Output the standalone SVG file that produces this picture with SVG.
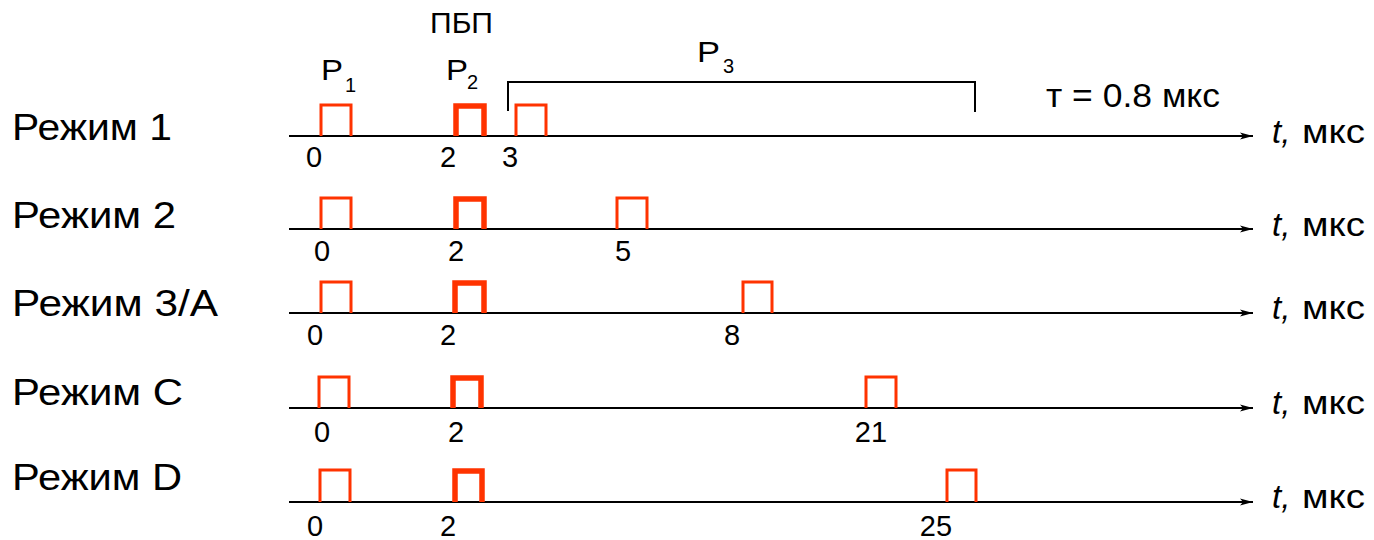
<svg xmlns="http://www.w3.org/2000/svg" width="1374" height="540" viewBox="0 0 1374 540">
<defs>
<marker id="arr" markerWidth="14" markerHeight="8" refX="13" refY="4" orient="auto" markerUnits="userSpaceOnUse">
<path d="M0,0.5 L13,4 L0,7.5 L3,4 Z" fill="#000"/>
</marker>
<style>
text{font-family:"Liberation Sans",Arial,sans-serif;fill:#000}
.mode{font-size:37px}
.num{font-size:29px;text-anchor:middle}
.unit{font-size:33px}
.ti{font-size:33px;font-style:italic}
.lbl{font-size:29px}
.sub{font-size:20px}
.axis{stroke:#000;stroke-width:2.2;fill:none}
.p{stroke:#ff3300;stroke-width:3;fill:none;stroke-linejoin:miter}
.pt{stroke:#ff3300;stroke-width:5.5;fill:none;stroke-linejoin:miter}
.br{stroke:#000;stroke-width:2;fill:none}
</style>
</defs>
<rect width="1374" height="540" fill="#fff"/>

<g id="annotations">
<text class="lbl" x="430" y="33" textLength="63" lengthAdjust="spacingAndGlyphs">ПБП</text>
<text class="lbl" x="321" y="80" textLength="22" lengthAdjust="spacingAndGlyphs">P</text>
<text class="sub" x="345" y="92">1</text>
<text class="lbl" x="446" y="80" textLength="22" lengthAdjust="spacingAndGlyphs">P</text>
<text class="sub" x="467" y="89">2</text>
<text class="lbl" x="697" y="62" textLength="23" lengthAdjust="spacingAndGlyphs">P</text>
<text class="sub" x="723" y="73">3</text>
<path class="br" d="M508,111 V82 H975 V112"/>
<text class="unit" x="1046" y="107" textLength="174" lengthAdjust="spacingAndGlyphs">т = 0.8 мкс</text>
</g>

<g id="connectors">
<line class="axis" x1="289" y1="136" x2="1253" y2="136" marker-end="url(#arr)"/>
<line class="axis" x1="289" y1="229" x2="1253" y2="229" marker-end="url(#arr)"/>
<line class="axis" x1="289" y1="313" x2="1253" y2="313" marker-end="url(#arr)"/>
<line class="axis" x1="289" y1="408" x2="1253" y2="408" marker-end="url(#arr)"/>
<line class="axis" x1="289" y1="502" x2="1253" y2="502" marker-end="url(#arr)"/>
</g>

<g id="mode1">
<text class="mode" x="12" y="140" textLength="160" lengthAdjust="spacingAndGlyphs">Режим 1</text>
<path class="p" d="M321,136 V105 H351 V136"/>
<path class="pt" d="M456,136 V106 H484 V136"/>
<path class="p" d="M516,136 V105 H546 V136"/>
<text class="num" x="314" y="167">0</text>
<text class="num" x="448" y="167">2</text>
<text class="num" x="510" y="167">3</text>
<text class="ti" x="1272" y="143">t,</text>
<text class="unit" x="1302" y="143" textLength="63" lengthAdjust="spacingAndGlyphs">мкс</text>
</g>

<g id="mode2">
<text class="mode" x="12" y="228" textLength="164" lengthAdjust="spacingAndGlyphs">Режим 2</text>
<path class="p" d="M321,229 V198 H351 V229"/>
<path class="pt" d="M456,229 V199 H484 V229"/>
<path class="p" d="M617,229 V198 H647 V229"/>
<text class="num" x="322" y="261">0</text>
<text class="num" x="456" y="261">2</text>
<text class="num" x="623" y="261">5</text>
<text class="ti" x="1272" y="236">t,</text>
<text class="unit" x="1302" y="236" textLength="63" lengthAdjust="spacingAndGlyphs">мкс</text>
</g>

<g id="mode3">
<text class="mode" x="12" y="316" textLength="206" lengthAdjust="spacingAndGlyphs">Режим 3/A</text>
<path class="p" d="M321,313 V282 H351 V313"/>
<path class="pt" d="M455,313 V283 H484 V313"/>
<path class="p" d="M743,313 V282 H772 V313"/>
<text class="num" x="315" y="345">0</text>
<text class="num" x="448" y="345">2</text>
<text class="num" x="732" y="345">8</text>
<text class="ti" x="1272" y="319">t,</text>
<text class="unit" x="1302" y="319" textLength="63" lengthAdjust="spacingAndGlyphs">мкс</text>
</g>

<g id="modeC">
<text class="mode" x="12" y="405" textLength="171" lengthAdjust="spacingAndGlyphs">Режим C</text>
<path class="p" d="M319,408 V377 H349 V408"/>
<path class="pt" d="M453,408 V378 H481 V408"/>
<path class="p" d="M866,408 V377 H896 V408"/>
<text class="num" x="322" y="442">0</text>
<text class="num" x="456" y="442">2</text>
<text class="num" x="871" y="442">21</text>
<text class="ti" x="1272" y="414">t,</text>
<text class="unit" x="1302" y="414" textLength="63" lengthAdjust="spacingAndGlyphs">мкс</text>
</g>

<g id="modeD">
<text class="mode" x="12" y="490" textLength="170" lengthAdjust="spacingAndGlyphs">Режим D</text>
<path class="p" d="M320,502 V470 H350 V502"/>
<path class="pt" d="M455,502 V471 H482 V502"/>
<path class="p" d="M947,502 V470 H976 V502"/>
<text class="num" x="315" y="536">0</text>
<text class="num" x="448" y="536">2</text>
<text class="num" x="936" y="536">25</text>
<text class="ti" x="1272" y="508">t,</text>
<text class="unit" x="1302" y="508" textLength="63" lengthAdjust="spacingAndGlyphs">мкс</text>
</g>
</svg>
